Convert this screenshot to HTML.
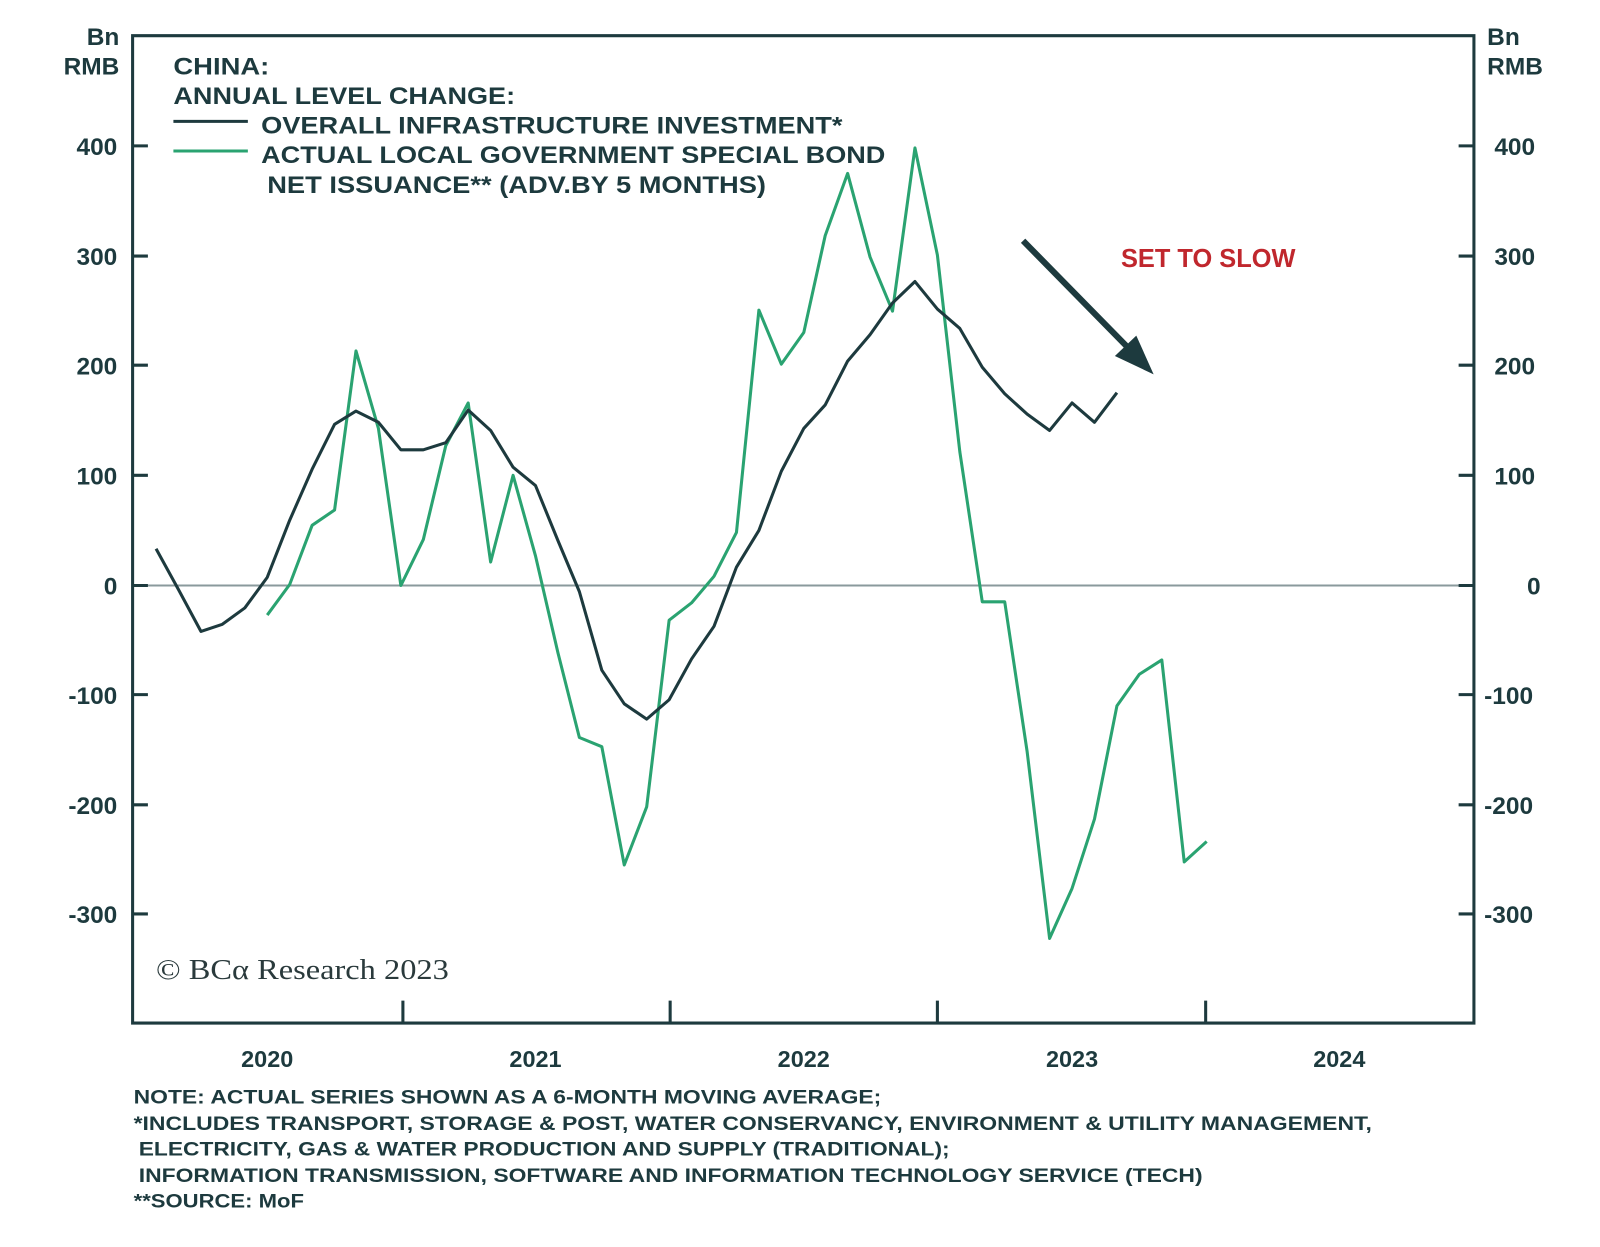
<!DOCTYPE html>
<html><head><meta charset="utf-8"><style>html,body{margin:0;padding:0;background:#fff}svg{display:block}</style></head>
<body>
<svg width="1600" height="1247" viewBox="0 0 1568.6 1222.5" xmlns="http://www.w3.org/2000/svg" font-family="Liberation Sans, sans-serif" font-weight="bold">
<rect width="1568.6" height="1222.5" fill="#fff"/>
<line x1="130" y1="574" x2="1445" y2="574" stroke="#8a9a9c" stroke-width="2"/>
<g stroke="#1d3a3e" stroke-width="3" fill="none">
<path d="M130 35 H1445 V1003 H130 Z"/>
<path d="M130 143h15M130 251h15M130 358h15M130 466h15M130 574h15M130 681h15M130 789h15M130 896h15"/>
<path d="M1445 143h-15M1445 251h-15M1445 358h-15M1445 466h-15M1445 574h-15M1445 681h-15M1445 789h-15M1445 896h-15"/>
<path d="M395 1003v-22M657 1003v-22M919 1003v-22M1182 1003v-22"/>
</g>
<g fill="#1d3a3e" font-size="24" text-anchor="end">
<text x="117" y="44">Bn</text><text x="117" y="73">RMB</text>
<text x="115" y="152">400</text><text x="115" y="260">300</text><text x="115" y="367">200</text><text x="115" y="475">100</text><text x="115" y="583">0</text><text x="115" y="690">-100</text><text x="115" y="798">-200</text><text x="115" y="905">-300</text>
</g>
<g fill="#1d3a3e" font-size="24">
<text x="1458" y="44">Bn</text><text x="1458" y="73">RMB</text>
<text x="1465" y="152">400</text><text x="1465" y="260">300</text><text x="1465" y="367">200</text><text x="1465" y="475">100</text><text x="1497" y="583">0</text><text x="1455" y="690">-100</text><text x="1455" y="798">-200</text><text x="1455" y="905">-300</text>
</g>
<g fill="#1d3a3e" font-size="23" text-anchor="middle">
<text x="262" y="1046">2020</text><text x="525" y="1046">2021</text><text x="788" y="1046">2022</text><text x="1051" y="1046">2023</text><text x="1313" y="1046">2024</text>
</g>
<g fill="#1d3a3e" font-size="24">
<text x="170" y="73" textLength="94" lengthAdjust="spacingAndGlyphs">CHINA:</text>
<text x="170" y="102" textLength="335" lengthAdjust="spacingAndGlyphs">ANNUAL LEVEL CHANGE:</text>
<text x="256" y="131" textLength="570" lengthAdjust="spacingAndGlyphs">OVERALL INFRASTRUCTURE INVESTMENT*</text>
<text x="256" y="160" textLength="612" lengthAdjust="spacingAndGlyphs">ACTUAL LOCAL GOVERNMENT SPECIAL BOND</text>
<text x="262" y="189" textLength="489" lengthAdjust="spacingAndGlyphs">NET ISSUANCE** (ADV.BY 5 MONTHS)</text>
</g>
<line x1="170" y1="119" x2="243" y2="119" stroke="#1d3a3e" stroke-width="3"/>
<line x1="170" y1="148" x2="243" y2="148" stroke="#2aa371" stroke-width="3"/>
<text x="1099" y="262" fill="#c0272d" font-size="25" textLength="171" lengthAdjust="spacingAndGlyphs">SET TO SLOW</text>
<line x1="1003" y1="236" x2="1112" y2="347" stroke="#1d3a3e" stroke-width="6"/>
<polygon points="1131,367 1093,349 1114,329" fill="#1d3a3e"/>
<text x="153" y="960" fill="#2a3a3c" font-family="Liberation Serif, serif" font-weight="normal" font-size="28" textLength="287" lengthAdjust="spacingAndGlyphs">© BCα Research 2023</text>
<polyline fill="none" stroke="#2aa371" stroke-width="3" stroke-linejoin="round" points="262,603 284,573 306,515 328,500 349,344 371,420 393,574 415,529 437,437 459,395 481,551 503,466 525,545 547,640 568,723 590,732 612,848 634,791 656,608 678,591 700,565 722,522 744,304 766,357 788,326 809,231 831,170 853,252 875,305 897,145 919,250 941,443 963,590 985,590 1007,737 1029,920 1051,871 1073,803 1095,692 1117,661 1139,647 1161,845 1183,825"/>
<polyline fill="none" stroke="#1d3a3e" stroke-width="3" stroke-linejoin="round" points="153,538 175,578 197,619 218,612 240,596 262,566 284,510 306,460 328,416 349,403 371,414 393,441 415,441 437,434 459,402 481,422 503,458 525,476 547,530 568,580 590,657 612,690 634,705 656,686 678,646 700,614 722,556 744,520 766,462 788,420 809,397 831,354 853,328 875,297 897,276 919,303 941,322 963,360 985,386 1007,406 1029,422 1051,395 1073,414 1095,385"/>
<g fill="#1d3a3e" font-size="19">
<text x="131" y="1082" textLength="733" lengthAdjust="spacingAndGlyphs">NOTE: ACTUAL SERIES SHOWN AS A 6-MONTH MOVING AVERAGE;</text>
<text x="131" y="1108" textLength="1214" lengthAdjust="spacingAndGlyphs">*INCLUDES TRANSPORT, STORAGE &amp; POST, WATER CONSERVANCY, ENVIRONMENT &amp; UTILITY MANAGEMENT,</text>
<text x="136" y="1133" textLength="795" lengthAdjust="spacingAndGlyphs">ELECTRICITY, GAS &amp; WATER PRODUCTION AND SUPPLY (TRADITIONAL);</text>
<text x="136" y="1159" textLength="1043" lengthAdjust="spacingAndGlyphs">INFORMATION TRANSMISSION, SOFTWARE AND INFORMATION TECHNOLOGY SERVICE (TECH)</text>
<text x="131" y="1184" textLength="167" lengthAdjust="spacingAndGlyphs">**SOURCE: MoF</text>
</g>
</svg>
</body></html>
